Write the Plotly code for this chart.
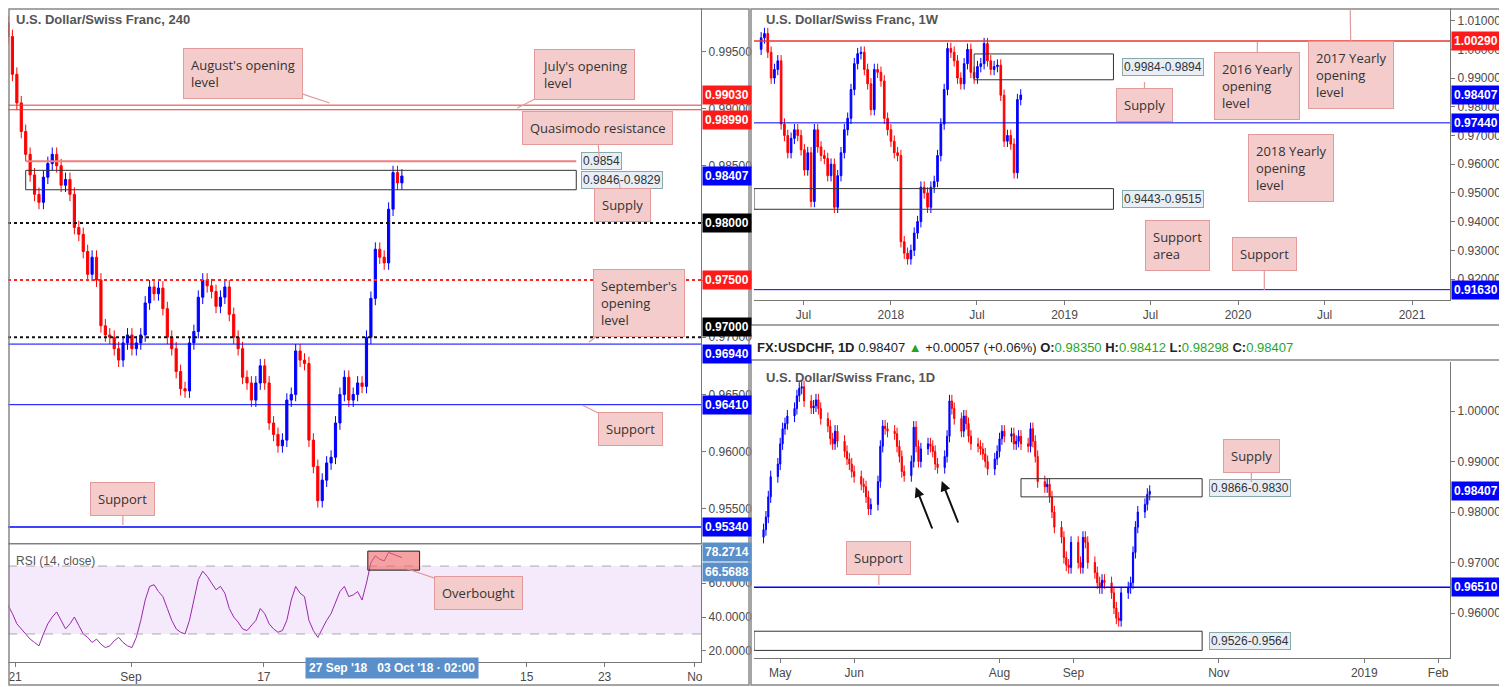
import pandas as pd
import plotly.graph_objects as go

# page has an 8px body margin, so the figure is drawn 8px smaller and shifted
OFF = 8
W, H = 1507 - OFF, 687 - OFF

# ---- 4H panel data (USDCHF, 240) ----
h4_close = [0.9963, 0.9930, 0.9905, 0.9880, 0.9860, 0.9842, 0.9825, 0.9818, 0.9840, 0.9852,
            0.9860, 0.9850, 0.9833, 0.9838, 0.9825, 0.9796, 0.9790, 0.9775, 0.9755, 0.9770,
            0.9750, 0.9710, 0.9702, 0.9700, 0.9690, 0.9680, 0.9695, 0.9702, 0.9690, 0.9695,
            0.9702, 0.9730, 0.9744, 0.9738, 0.9743, 0.9725, 0.9700, 0.9690, 0.9670, 0.9655,
            0.9653, 0.9695, 0.9705, 0.9735, 0.9750, 0.9745, 0.9740, 0.9727, 0.9735, 0.9744,
            0.9720, 0.9700, 0.9690, 0.9665, 0.9660, 0.9645, 0.9660, 0.9675, 0.9660, 0.9625,
            0.9615, 0.9605, 0.9610, 0.9645, 0.9650, 0.9688, 0.9680, 0.9677, 0.9610, 0.9587,
            0.9557, 0.9575, 0.9590, 0.9595, 0.9625, 0.9650, 0.9665, 0.9645, 0.9650, 0.9660,
            0.9657, 0.9700, 0.9734, 0.9777, 0.9770, 0.9765, 0.9812, 0.9844, 0.9835, 0.9841]
h4_first_open = 0.9975
rsi = [47, 42, 36, 33, 30, 27, 25, 23, 30, 36, 40, 43, 38, 33, 36, 40, 35, 30, 28, 25,
       27, 24, 22, 23, 26, 28, 25, 23, 22, 28, 38, 50, 58, 59, 55, 52, 45, 38, 33, 31,
       30, 38, 50, 62, 67, 64, 60, 56, 58, 54, 45, 40, 37, 33, 32, 35, 38, 45, 42, 36,
       33, 31, 32, 38, 50, 58, 54, 52, 38, 32, 28, 33, 38, 42, 48, 55, 58, 52, 53, 55,
       50, 60, 72, 76, 74, 73, 78, 77, 76, 75]
h4_tick_pos = [1.6, 27.8, 57.8, 117.2, 134.8, 155.2]
h4_tick_text = ["21", "Sep", "17", "15", "23", "No"]

# ---- Weekly panel data ----
w_start = "2017-04-03"
w_close = [1.0040, 1.0055, 0.9990, 0.9900, 0.9930, 0.9960, 0.9740, 0.9700, 0.9640, 0.9690,
           0.9720, 0.9700, 0.9650, 0.9580, 0.9640, 0.9470, 0.9720, 0.9660, 0.9630, 0.9620,
           0.9560, 0.9600, 0.9450, 0.9560, 0.9640, 0.9720, 0.9760, 0.9860, 0.9950, 0.9985,
           0.9990, 0.9930, 0.9880, 0.9790, 0.9930, 0.9920, 0.9890, 0.9760, 0.9720, 0.9680,
           0.9640, 0.9630, 0.9330, 0.9290, 0.9270, 0.9300, 0.9360, 0.9400, 0.9520, 0.9500,
           0.9450, 0.9520, 0.9540, 0.9630, 0.9740, 0.9860, 1.0003, 0.9990, 0.9960, 0.9900,
           0.9880, 0.9950, 1.0000, 0.9920, 0.9900, 0.9940, 0.9950, 1.0020, 0.9960, 0.9930,
           0.9940, 0.9945, 0.9840, 0.9680, 0.9700, 0.9670, 0.9570, 0.9825, 0.9841]
w_first_open = 1.0000
w_ticks = ["2017-07-01", "2018-01-01", "2018-07-01", "2019-01-01", "2019-07-01",
           "2020-01-01", "2020-07-01", "2021-01-01"]
w_tick_text = ["Jul", "2018", "Jul", "2019", "Jul", "2020", "Jul", "2021"]

# ---- Daily panel data ----
d_end = "2018-10-03"
d_close = [0.9765, 0.9790, 0.9830, 0.9870, 0.9895, 0.9935, 0.9965, 0.9975, 0.9990, 1.0005,
           1.0030, 1.0045, 1.0048, 1.0020, 1.0006, 1.0010, 1.0022, 1.0005, 0.9985, 0.9970,
           0.9945, 0.9935, 0.9960, 0.9940, 0.9920, 0.9905, 0.9895, 0.9880, 0.9870, 0.9855,
           0.9850, 0.9830, 0.9806, 0.9815, 0.9860, 0.9930, 0.9970, 0.9965, 0.9960, 0.9955,
           0.9930, 0.9910, 0.9880, 0.9872, 0.9900, 0.9968, 0.9930, 0.9900, 0.9925, 0.9935,
           0.9930, 0.9920, 0.9895, 0.9888, 0.9910, 0.9950, 1.0020, 1.0005, 0.9985, 0.9960,
           0.9990, 0.9975, 0.9950, 0.9935, 0.9930, 0.9925, 0.9915, 0.9900, 0.9885, 0.9905,
           0.9920, 0.9945, 0.9960, 0.9950, 0.9955, 0.9935, 0.9940, 0.9950, 0.9935, 0.9930,
           0.9965, 0.9940, 0.9910, 0.9860, 0.9850, 0.9855, 0.9830, 0.9800, 0.9770, 0.9750,
           0.9710, 0.9695, 0.9690, 0.9740, 0.9700, 0.9690, 0.9750, 0.9740, 0.9700, 0.9680,
           0.9660, 0.9650, 0.9665, 0.9660, 0.9640, 0.9610, 0.9590, 0.9585, 0.9640, 0.9650,
           0.9660, 0.9720, 0.9770, 0.9800, 0.9815, 0.9835, 0.9841]
d_first_open = 0.9750
d_ticks = ["2018-05-01", "2018-06-01", "2018-08-01", "2018-09-01", "2018-11-01",
           "2019-01-01", "2019-02-01"]
d_tick_text = ["May", "Jun", "Aug", "Sep", "Nov", "2019", "Feb"]

UP, DN = "#0000ff", "#ff0000"


def ohlc(first_open, closes, wick):
    opens = [first_open] + closes[:-1]
    highs = [max(o, c) + wick for o, c in zip(opens, closes)]
    lows = [min(o, c) - wick for o, c in zip(opens, closes)]
    return opens, highs, lows, closes


def candles(x, data, xa, ya):
    o, h, l, c = data
    return go.Candlestick(x=x, open=o, high=h, low=l, close=c, xaxis=xa, yaxis=ya,
                          increasing=dict(line=dict(color=UP, width=1), fillcolor=UP),
                          decreasing=dict(line=dict(color=DN, width=1), fillcolor=DN),
                          whiskerwidth=0, showlegend=False, hoverinfo="skip")


def px(x):
    return (x - OFF) / W


def py(y):
    return 1 - (y - OFF) / H


fig = go.Figure()
h4_x = list(range(len(h4_close)))
fig.add_trace(candles(h4_x, ohlc(h4_first_open, h4_close, 0.0006), "x", "y"))
fig.add_trace(go.Scatter(x=h4_x, y=rsi, xaxis="x2", yaxis="y2", mode="lines",
                         line=dict(color="#9c27b0", width=1), showlegend=False, hoverinfo="skip"))
w_x = pd.date_range(w_start, periods=len(w_close), freq="7D")
fig.add_trace(candles(w_x, ohlc(w_first_open, w_close, 0.002), "x3", "y3"))
d_x = pd.bdate_range(end=d_end, periods=len(d_close))
fig.add_trace(candles(d_x, ohlc(d_first_open, d_close, 0.0012), "x4", "y4"))

tick_font = dict(family="Arial", size=12, color="#4a4a4a")
common_x = dict(showgrid=False, zeroline=False, rangeslider=dict(visible=False),
                ticks="outside", ticklen=4, tickcolor="#777", tickfont=tick_font,
                showline=True, linecolor="#777")
common_y = dict(showgrid=False, zeroline=False, side="right", ticks="outside", ticklen=4,
                tickcolor="#777", tickfont=tick_font, showline=True, linecolor="#777")

fig.update_layout(
    width=W, height=H, margin=dict(l=0, r=0, t=0, b=0),
    paper_bgcolor="white", plot_bgcolor="white", showlegend=False,
    xaxis=dict(common_x, domain=[px(8), px(702)], range=[-0.0, 156.6], showticklabels=False,
               ticks="", anchor="y"),
    yaxis=dict(common_y, domain=[py(543), py(8)], range=[0.9520, 0.9988],
               tickvals=[0.955, 0.96, 0.965, 0.97, 0.975, 0.98, 0.985, 0.99, 0.995],
               tickformat=".5f", anchor="x"),
    xaxis2=dict(common_x, domain=[px(8), px(702)], range=[-0.0, 156.6], anchor="y2",
                tickvals=h4_tick_pos, ticktext=h4_tick_text),
    yaxis2=dict(common_y, domain=[py(662), py(545)], range=[13.5, 82.4],
                tickvals=[20, 40, 60], tickformat=".4f", anchor="x2"),
    xaxis3=dict(common_x, domain=[px(755), px(1452)], range=["2017-03-19", "2021-03-22"],
                tickvals=w_ticks, ticktext=w_tick_text, anchor="y3"),
    yaxis3=dict(common_y, domain=[py(300), py(8)], range=[0.9127, 1.0144],
                tickvals=[0.92, 0.93, 0.94, 0.95, 0.96, 0.97, 0.98, 0.99, 1.0, 1.01],
                tickformat=".5f", anchor="x3"),
    xaxis4=dict(common_x, domain=[px(755), px(1452)], range=["2018-04-20", "2019-02-06"],
                tickvals=d_ticks, ticktext=d_tick_text, anchor="y4"),
    yaxis4=dict(common_y, domain=[py(658), py(362)], range=[0.9511, 1.0097],
                tickvals=[0.96, 0.97, 0.98, 0.99, 1.0], tickformat=".5f", anchor="x4"),
)

shapes = []


def hline(xa, ya, y, color, width=1, dash="solid", x0=None, x1=None):
    if x0 is None:
        shapes.append(dict(type="line", xref=xa + " domain", yref=ya, x0=0, x1=1, y0=y, y1=y,
                           line=dict(color=color, width=width, dash=dash)))
    else:
        shapes.append(dict(type="line", xref=xa, yref=ya, x0=x0, x1=x1, y0=y, y1=y,
                           line=dict(color=color, width=width, dash=dash)))


def zone(xa, ya, x0, x1, y0, y1):
    shapes.append(dict(type="rect", xref=xa, yref=ya, x0=x0, x1=x1, y0=y0, y1=y1,
                       line=dict(color="#333", width=1), fillcolor="rgba(0,0,0,0)"))


# 4H levels
hline("x", "y", 0.99030, "#e53935")
hline("x", "y", 0.98990, "#e53935")
hline("x", "y", 0.98540, "#f08080", 2, x0=4, x1=128.4)
zone("x", "y", 4, 128.4, 0.9829, 0.9846)
hline("x", "y", 0.98, "#111", 2, "dot")
hline("x", "y", 0.975, "#ff2020", 2, "dot")
hline("x", "y", 0.97, "#111", 2, "dot")
hline("x", "y", 0.9694, "#0000ff")
hline("x", "y", 0.9641, "#0000ff")
hline("x", "y", 0.9534, "#0000ff", 1.5)
# RSI band
shapes.append(dict(type="rect", xref="x2 domain", yref="y2", x0=0, x1=1, y0=30, y1=70,
                   fillcolor="rgba(200,150,235,0.2)", line=dict(width=0), layer="below"))
hline("x2", "y2", 70, "#aaa", 1, "dash")
hline("x2", "y2", 30, "#aaa", 1, "dash")
shapes.append(dict(type="rect", xref="x2", yref="y2", x0=81.3, x1=93, y0=67.6, y1=78.8,
                   fillcolor="rgba(240,100,100,0.6)", line=dict(color="#222", width=1)))
# Weekly levels
hline("x3", "y3", 1.0029, "#e53935", 1.5)
hline("x3", "y3", 0.9744, "#0000ff")
hline("x3", "y3", 0.9163, "#0000ff")
zone("x3", "y3", "2018-06-25", "2019-04-14", 0.9894, 0.9984)
zone("x3", "y3", "2017-03-19", "2019-04-14", 0.9443, 0.9515)
# Daily levels
hline("x4", "y4", 0.9651, "#0000ff", 1.5)
zone("x4", "y4", "2018-08-10", "2018-10-25", 0.9830, 0.9866)
zone("x4", "y4", "2018-04-20", "2018-10-25", 0.9526, 0.9564)

# panel frames
for x0, y0, x1, y1 in [(9, 9, 750, 685), (752, 9, 1506, 325), (752, 360, 1506, 685)]:
    shapes.append(dict(type="rect", xref="paper", yref="paper", x0=px(x0), x1=px(x1),
                       y0=py(y1), y1=py(y0), line=dict(color="#888", width=1.5)))
shapes.append(dict(type="line", xref="paper", yref="paper", x0=px(8), x1=px(750),
                   y0=py(544), y1=py(544), line=dict(color="#888", width=1)))
fig.update_layout(shapes=shapes)

ann = []


def tag(xa_right, ya, y, text, bg, anchor="middle"):
    ann.append(dict(xref="paper", yref=ya, x=px(xa_right), y=y, text="<b>%s</b>" % text,
                    xanchor="left", yanchor=anchor, showarrow=False, bgcolor=bg,
                    font=dict(family="Arial", size=12, color="white"), borderpad=2))


for v, c, a in [(0.99030, "#ff1a1a", "bottom"), (0.98990, "#ff1a1a", "top"),
                (0.98407, "#0000ff", "middle"), (0.98000, "#000", "middle"),
                (0.97500, "#ff1a1a", "middle"), (0.97000, "#000", "bottom"),
                (0.96940, "#0000ff", "top"), (0.96410, "#0000ff", "middle"),
                (0.95340, "#0000ff", "middle")]:
    tag(703, "y", v, "%.5f" % v, c, a)
tag(703, "y2", 78.2714, "78.2714", "#5b8fc9")
tag(703, "y2", 66.5688, "66.5688", "#5b8fc9")
for v, c in [(1.00290, "#ff1a1a"), (0.98407, "#0000ff"), (0.97440, "#0000ff"),
             (0.91630, "#0000ff")]:
    tag(1453, "y3", v, "%.5f" % v, c)
for v, c in [(0.98407, "#0000ff"), (0.96510, "#0000ff")]:
    tag(1453, "y4", v, "%.5f" % v, c)


def box_label(xa, ya, x, y, text):
    ann.append(dict(xref=xa, yref=ya, x=x, y=y, text=text, xanchor="left", showarrow=False,
                    bgcolor="#e8eef5", bordercolor="#8aa", borderwidth=1, borderpad=1,
                    font=dict(family="Arial", size=12, color="#333")))


box_label("x", "y", 129.5, 0.9854, "0.9854")
box_label("x", "y", 129.5, 0.98375, "0.9846-0.9829")
box_label("x3", "y3", "2019-05-01", 0.9939, "0.9984-0.9894")
box_label("x3", "y3", "2019-05-01", 0.9479, "0.9443-0.9515")
box_label("x4", "y4", "2018-10-28", 0.9848, "0.9866-0.9830")
box_label("x4", "y4", "2018-10-28", 0.9545, "0.9526-0.9564")


def callout(cx, cy, tx, ty, text):
    ann.append(dict(xref="paper", yref="paper", x=px(tx), y=py(ty), ax=cx - tx, ay=cy - ty,
                    axref="pixel", ayref="pixel", text=text, align="left", showarrow=True,
                    arrowhead=0, arrowwidth=1.2, arrowcolor="#e39a9a", bgcolor="#f4cccc",
                    bordercolor="#e39a9a", borderwidth=1, borderpad=7,
                    font=dict(family="Open Sans", size=13, color="#333")))


callout(243, 74, 330, 103, "August's opening<br>level")
callout(585, 74, 518, 108, "July's opening<br>level")
callout(598, 128, 600, 158, "Quasimodo resistance")
callout(623, 205, 620, 181, "Supply")
callout(640, 303, 590, 342, "September's<br>opening<br>level")
callout(631, 429, 583, 405, "Support")
callout(123, 499, 123, 525, "Support")
callout(479, 593, 405, 568, "Overbought")
callout(1146, 105, 1146, 82, "Supply")
callout(1259, 86, 1259, 42, "2016 Yearly<br>opening<br>level")
callout(1353, 75, 1352, 9, "2017 Yearly<br>opening<br>level")
callout(1293, 168, 1243, 127, "2018 Yearly<br>opening<br>level")
callout(1179, 246, 1130, 204, "Support<br>area")
callout(1266, 254, 1266, 290, "Support")
callout(1253, 456, 1253, 482, "Supply")
callout(880, 558, 880, 585, "Support")

# black arrows on daily chart
for tx, ty in [(917, 487), (943, 481)]:
    ann.append(dict(xref="paper", yref="paper", x=px(tx), y=py(ty), ax=17, ay=43,
                    axref="pixel", ayref="pixel", showarrow=True, arrowhead=2, arrowsize=1,
                    arrowwidth=2, arrowcolor="#111", text=""))

titles = [(14, 19, "U.S. Dollar/Swiss Franc, 240"), (765, 19, "U.S. Dollar/Swiss Franc, 1W"),
          (765, 378, "U.S. Dollar/Swiss Franc, 1D")]
for x, y, t in titles:
    ann.append(dict(xref="paper", yref="paper", x=px(x), y=py(y), text="<b>%s</b>" % t,
                    xanchor="left", yanchor="middle", showarrow=False,
                    font=dict(family="Arial", size=13, color="#555")))
ann.append(dict(xref="paper", yref="paper", x=px(14), y=py(561), text="RSI (14, close)",
                xanchor="left", yanchor="middle", showarrow=False,
                font=dict(family="Arial", size=12, color="#555")))
G = "#1fa71f"
header = ("<b>FX:USDCHF, 1D</b> 0.98407 <span style='color:%s'>▲</span> +0.00057 (+0.06%%) "
          "<b>O:</b><span style='color:%s'>0.98350</span> <b>H:</b><span style='color:%s'>0.98412</span> "
          "<b>L:</b><span style='color:%s'>0.98298</span> <b>C:</b><span style='color:%s'>0.98407</span>"
          % (G, G, G, G, G))
ann.append(dict(xref="paper", yref="paper", x=px(756), y=py(347), text=header, xanchor="left",
                yanchor="middle", showarrow=False, font=dict(family="Arial", size=13, color="#222")))
ann.append(dict(xref="paper", yref="paper", x=px(393), y=py(668),
                text="<b>27 Sep '18   03 Oct '18 · 02:00</b>",
                xanchor="center", yanchor="middle", showarrow=False, bgcolor="#5b8fc9",
                borderpad=3, font=dict(family="Arial", size=12, color="white")))

fig.update_layout(annotations=ann)
fig.write_html("out.html")
